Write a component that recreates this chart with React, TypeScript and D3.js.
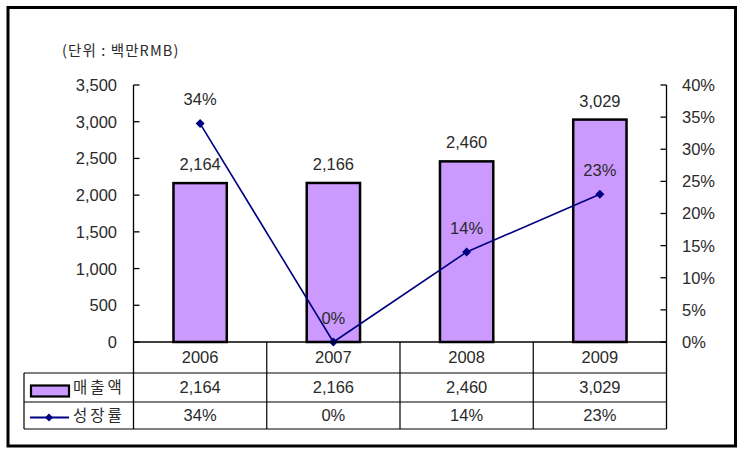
import React from "react";
import * as d3 from "d3";

const years = ["2006", "2007", "2008", "2009"];
const sales = [2164, 2166, 2460, 3029];
const growth = [34, 0, 14, 23];
const leftTicks = [0, 500, 1000, 1500, 2000, 2500, 3000, 3500];
const rightTicks = [0, 5, 10, 15, 20, 25, 30, 35, 40];
const unitLabel = "(단위 : 백만RMB)";
const salesName = "매출액";
const growthName = "성장률";

const W = 743;
const H = 456;
const L = 133.5;
const R = 666.5;
const TOP = 85;
const BASE = 342;
const ROW1 = 373;
const ROW2 = 402;
const ROW3 = 429;
const TABLE_L = 24;

const FILL = "#CC99FF";
const LINE = "#000080";
const TXT = "#2a2a2a";
const NUM_FONT = "'Liberation Sans', Arial, sans-serif";
const KR_FONT = "'Noto Sans CJK KR', 'Liberation Sans', sans-serif";

const fmt = d3.format(",");

export default function App() {
  const x = d3.scaleBand<string>().domain(years).range([L, R]);
  const bw = x.bandwidth();
  const yL = d3.scaleLinear().domain([0, 3500]).range([BASE, TOP]);
  const yR = d3.scaleLinear().domain([0, 40]).range([BASE, TOP]);
  const cx = (yr: string) => (x(yr) as number) + bw / 2;

  const linePath = d3
    .line<number>()
    .x((_, i) => cx(years[i]))
    .y((d) => yR(d))(growth) as string;

  const diamond = (px: number, py: number, s = 4.5) =>
    `M${px},${py - s}L${px + s},${py}L${px},${py + s}L${px - s},${py}Z`;

  const colEdges = years.map((yr) => x(yr) as number).concat([R]);

  return (
    <svg
      width={W}
      height={H}
      style={{ position: "absolute", left: 0, top: 0, background: "#fff" }}
    >
      <rect x={8} y={7.5} width={727.5} height={438.5} fill="#fff" stroke="#000" strokeWidth={3} />

      <text x={62} y={56} fontFamily={KR_FONT} fontSize={14.5} letterSpacing={1.1} fill={TXT}>
        {unitLabel}
      </text>

      {/* left axis */}
      <line x1={L} x2={L} y1={TOP} y2={ROW3} stroke="#000" strokeWidth={1.3} />
      {leftTicks.map((t) => (
        <g key={"l" + t}>
          <line x1={L} x2={L + 6} y1={yL(t)} y2={yL(t)} stroke="#000" strokeWidth={1.3} />
          <text
            x={117}
            y={yL(t)}
            dy="0.36em"
            textAnchor="end"
            fontFamily={NUM_FONT}
            fontSize={16.5}
            fill={TXT}
          >
            {fmt(t)}
          </text>
        </g>
      ))}

      {/* right axis */}
      <line x1={R} x2={R} y1={TOP} y2={ROW3} stroke="#000" strokeWidth={1.3} />
      {rightTicks.map((t) => (
        <g key={"r" + t}>
          <line x1={R - 6} x2={R} y1={yR(t)} y2={yR(t)} stroke="#000" strokeWidth={1.3} />
          <text
            x={682}
            y={yR(t)}
            dy="0.36em"
            textAnchor="start"
            fontFamily={NUM_FONT}
            fontSize={16.5}
            fill={TXT}
          >
            {t + "%"}
          </text>
        </g>
      ))}

      {/* bars */}
      {years.map((yr, i) => (
        <rect
          key={"b" + yr}
          x={(x(yr) as number) + bw * 0.3}
          y={yL(sales[i])}
          width={bw * 0.4}
          height={BASE - yL(sales[i])}
          fill={FILL}
          stroke="#000"
          strokeWidth={2.5}
        />
      ))}

      {/* bar labels */}
      {years.map((yr, i) => (
        <text
          key={"bl" + yr}
          x={cx(yr)}
          y={yL(sales[i]) - 19}
          dy="0.36em"
          textAnchor="middle"
          fontFamily={NUM_FONT}
          fontSize={16.5}
          fill={TXT}
        >
          {fmt(sales[i])}
        </text>
      ))}

      {/* line */}
      <path d={linePath} fill="none" stroke={LINE} strokeWidth={1.6} />
      {years.map((yr, i) => (
        <path key={"m" + yr} d={diamond(cx(yr), yR(growth[i]))} fill={LINE} />
      ))}
      {years.map((yr, i) => (
        <text
          key={"gl" + yr}
          x={cx(yr)}
          y={yR(growth[i]) - 24}
          dy="0.36em"
          textAnchor="middle"
          fontFamily={NUM_FONT}
          fontSize={16.5}
          fill={TXT}
        >
          {growth[i] + "%"}
        </text>
      ))}

      {/* data table */}
      <line x1={L} x2={R} y1={BASE} y2={BASE} stroke="#000" strokeWidth={1.3} />
      {[ROW1, ROW2, ROW3].map((yy) => (
        <line key={"h" + yy} x1={TABLE_L} x2={R} y1={yy} y2={yy} stroke="#000" strokeWidth={1.2} />
      ))}
      <line x1={TABLE_L} x2={TABLE_L} y1={ROW1} y2={ROW3} stroke="#000" strokeWidth={1.2} />
      {colEdges.slice(1, -1).map((ex) => (
        <line key={"v" + ex} x1={ex} x2={ex} y1={BASE} y2={ROW3} stroke="#000" strokeWidth={1.2} />
      ))}

      {years.map((yr, i) => (
        <g key={"t" + yr}>
          <text x={cx(yr)} y={(BASE + ROW1) / 2} dy="0.36em" textAnchor="middle" fontFamily={NUM_FONT} fontSize={16.5} fill={TXT}>
            {yr}
          </text>
          <text x={cx(yr)} y={(ROW1 + ROW2) / 2} dy="0.36em" textAnchor="middle" fontFamily={NUM_FONT} fontSize={16.5} fill={TXT}>
            {fmt(sales[i])}
          </text>
          <text x={cx(yr)} y={(ROW2 + ROW3) / 2} dy="0.36em" textAnchor="middle" fontFamily={NUM_FONT} fontSize={16.5} fill={TXT}>
            {growth[i] + "%"}
          </text>
        </g>
      ))}

      {/* legend keys */}
      <rect x={31} y={385.5} width={38} height={11} fill={FILL} stroke="#000" strokeWidth={2.2} />
      <text x={73} y={(ROW1 + ROW2) / 2} dy="0.36em" fontFamily={KR_FONT} fontSize={15.5} letterSpacing={3} fill={TXT}>
        {salesName}
      </text>
      <line x1={30} x2={69} y1={417.5} y2={417.5} stroke={LINE} strokeWidth={1.8} />
      <path d={diamond(49, 417.5, 4)} fill={LINE} />
      <text x={73} y={(ROW2 + ROW3) / 2} dy="0.36em" fontFamily={KR_FONT} fontSize={15.5} letterSpacing={3} fill={TXT}>
        {growthName}
      </text>
    </svg>
  );
}
